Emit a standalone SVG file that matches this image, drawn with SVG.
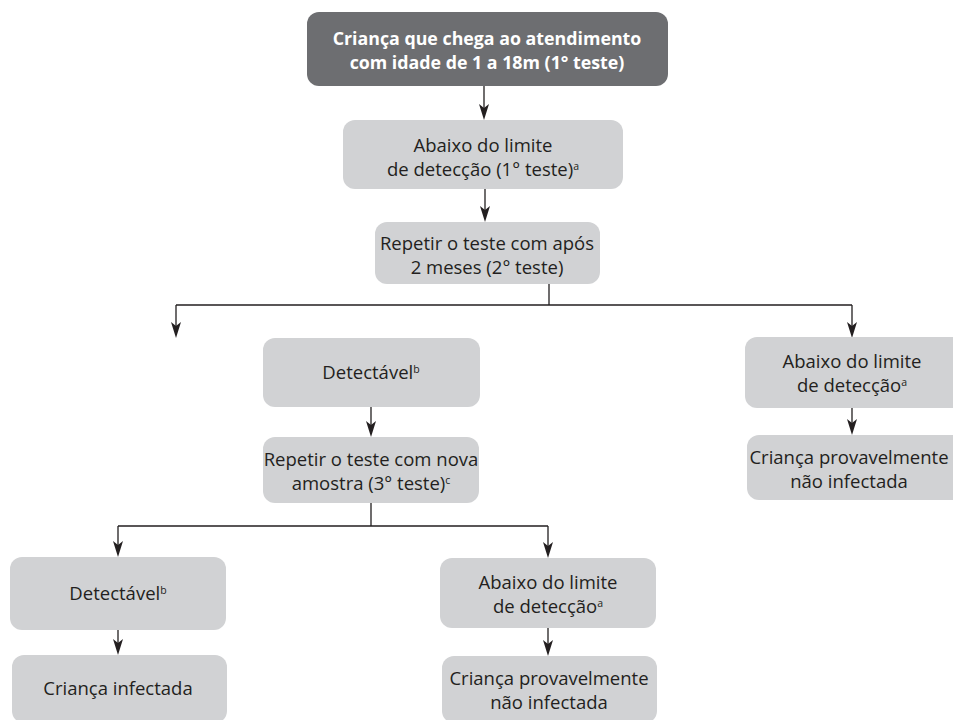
<svg xmlns="http://www.w3.org/2000/svg" width="953" height="720" viewBox="0 0 953 720">
<defs>
<style>
.box{fill:#d1d2d4}
.dark{fill:#6d6e71}
.t{font-family:"Open Sans","Noto Sans",sans-serif;font-size:18.5px;fill:#231f20;text-anchor:middle}
.tw{font-family:"Open Sans","Noto Sans",sans-serif;font-size:17.8px;font-weight:bold;fill:#ffffff;text-anchor:middle}
.sup{font-size:10.5px}
.c{fill:none;stroke:#231f20;stroke-width:1.3}
.ah{fill:#231f20}
</style>
</defs>
<rect width="953" height="720" fill="#ffffff"/>
<g id="connectors">
<path class="c" d="M484,86 V108"/><path class="ah" d="M479,104 L484,108 L489,104 L484,120 Z"/>
<path class="c" d="M485,189 V210"/><path class="ah" d="M480,206 L485,210 L490,206 L485,222 Z"/>
<path class="c" d="M549,284 V305 M176,305 H852 M176,305 V326 M852,305 V326"/>
<path class="ah" d="M171,322 L176,326 L181,322 L176,338 Z"/>
<path class="ah" d="M847,322 L852,326 L857,322 L852,338 Z"/>
<path class="c" d="M371,407 V425"/><path class="ah" d="M366,421 L371,425 L376,421 L371,437 Z"/>
<path class="c" d="M371,503 V526 M118,526 H548 M118,526 V545 M548,526 V546"/>
<path class="ah" d="M113,541 L118,545 L123,541 L118,557 Z"/>
<path class="ah" d="M543,542 L548,546 L553,542 L548,558 Z"/>
<path class="c" d="M118,630 V643"/><path class="ah" d="M113,639 L118,643 L123,639 L118,655 Z"/>
<path class="c" d="M548,628 V644"/><path class="ah" d="M543,640 L548,644 L553,640 L548,656 Z"/>
<path class="c" d="M852,408 V423"/><path class="ah" d="M847,419 L852,423 L857,419 L852,435 Z"/>
</g>
<g id="n1"><rect class="dark" x="307" y="12" width="361" height="74" rx="12"/>
<text class="tw" x="487" y="45">Criança que chega ao atendimento</text>
<text class="tw" x="487" y="69">com idade de 1 a 18m (1° teste)</text></g>
<g id="n2"><rect class="box" x="343" y="120" width="280" height="69" rx="12"/>
<text class="t" x="483" y="152">Abaixo do limite</text>
<text class="t" x="483" y="176">de detecção (1° teste)<tspan class="sup" dy="-6">a</tspan></text></g>
<g id="n3"><rect class="box" x="375" y="222" width="225" height="62" rx="12"/>
<text class="t" x="487" y="250">Repetir o teste com após</text>
<text class="t" x="487" y="274">2 meses (2° teste)</text></g>
<g id="n4"><rect class="box" x="263" y="338" width="217" height="69" rx="12"/>
<text class="t" x="371" y="379">Detectável<tspan class="sup" dy="-6">b</tspan></text></g>
<g id="n5"><rect class="box" x="263" y="437" width="216" height="66" rx="12"/>
<text class="t" x="371" y="466">Repetir o teste com nova</text>
<text class="t" x="371" y="490">amostra (3° teste)<tspan class="sup" dy="-6">c</tspan></text></g>
<g id="n6"><rect class="box" x="745" y="337" width="220" height="71" rx="12"/>
<text class="t" x="852" y="368">Abaixo do limite</text>
<text class="t" x="852" y="392">de detecção<tspan class="sup" dy="-6">a</tspan></text></g>
<g id="n7"><rect class="box" x="747" y="435" width="220" height="65" rx="12"/>
<text class="t" x="849" y="464">Criança provavelmente</text>
<text class="t" x="849" y="488">não infectada</text></g>
<g id="n8"><rect class="box" x="10" y="557" width="216" height="73" rx="12"/>
<text class="t" x="118" y="600">Detectável<tspan class="sup" dy="-6">b</tspan></text></g>
<g id="n9"><rect class="box" x="12" y="655" width="215" height="68" rx="12"/>
<text class="t" x="118" y="695">Criança infectada</text></g>
<g id="n10"><rect class="box" x="440" y="558" width="216" height="70" rx="12"/>
<text class="t" x="548" y="589">Abaixo do limite</text>
<text class="t" x="548" y="613">de detecção<tspan class="sup" dy="-6">a</tspan></text></g>
<g id="n11"><rect class="box" x="442" y="656" width="215" height="67" rx="12"/>
<text class="t" x="549" y="685">Criança provavelmente</text>
<text class="t" x="549" y="709">não infectada</text></g>
</svg>
